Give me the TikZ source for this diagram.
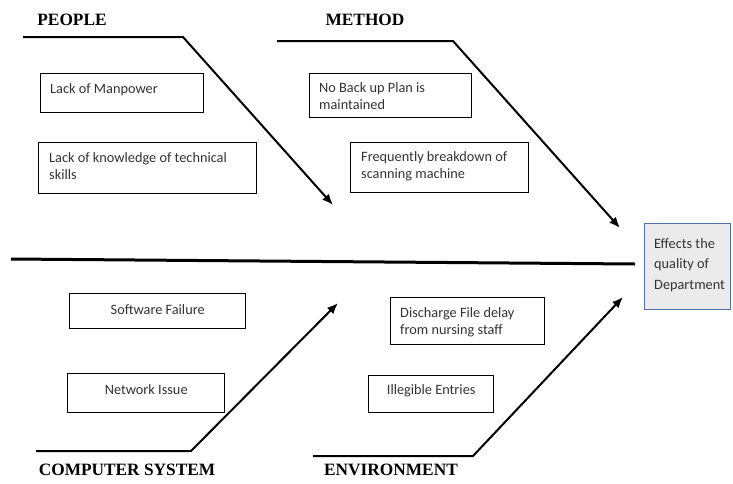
\documentclass[tikz,border=0pt]{standalone}
\usepackage{fontspec}
\setmainfont{Liberation Serif}
\newfontfamily\calfont{Carlito}
\usetikzlibrary{arrows.meta}
\definecolor{effborder}{HTML}{5070A8}
\definecolor{efffill}{HTML}{EBEBEB}
\definecolor{txtgray}{HTML}{333333}
\tikzset{
  causebox/.style={draw=black, line width=1.4pt, rectangle, anchor=north west, inner sep=0pt},
  boxtext/.style={anchor=north west, inner sep=0pt, align=left, text=txtgray,
    font=\calfont\fontsize{14.3}{17.5}\selectfont},
  ctrtext/.style={inner sep=0pt, align=center, text=txtgray,
    font=\calfont\fontsize{14.3}{17.5}\selectfont},
  cattext/.style={inner sep=0pt, font=\bfseries\fontsize{17.3}{19}\selectfont},
  branch/.style={line width=2pt, -{Latex[length=11pt,width=9pt]}},
  spine/.style={line width=3pt},
}
\begin{document}
\begin{tikzpicture}[x=1pt,y=-1pt]
\useasboundingbox (0,0) rectangle (733,483);

% category labels
\node[cattext] (lpeople) at (72,20) {PEOPLE};
\node[cattext] (lmethod) at (365,20) {METHOD};
\node[cattext] (lcomp) at (127,470) {COMPUTER SYSTEM};
\node[cattext] (lenv) at (391,470) {ENVIRONMENT};

% effect box
\node[draw=effborder, fill=efffill, line width=1.4pt, anchor=north west, inner sep=0pt,
      minimum width=86pt, minimum height=86pt] (eff) at (644,223) {};
\node[boxtext, font=\calfont\fontsize{14.3}{20.5}\selectfont] (efftext)
      at ([xshift=10pt,yshift=-15pt]eff.north west) {Effects the\\quality of\\Department};

% spine
\coordinate (s0) at (11,259);
\coordinate (s1) at (635,264);
\draw[spine] (s0) -- (s1);

% branches
\coordinate (p0) at (23,37);
\coordinate (p1) at (183,37);
\coordinate (p2) at (333,205);
\draw[branch] (p0) -- (p1) -- (p2);

\coordinate (m0) at (277,41);
\coordinate (m1) at (453,41);
\coordinate (m2) at (620,228);
\draw[branch] (m0) -- (m1) -- (m2);

\coordinate (c0) at (36,451);
\coordinate (c1) at (191,451);
\coordinate (c2) at (338,303);
\draw[branch] (c0) -- (c1) -- (c2);

\coordinate (e0) at (313,456);
\coordinate (e1) at (473,456);
\coordinate (e2) at (623,297);
\draw[branch] (e0) -- (e1) -- (e2);

% cause boxes
\node[causebox, minimum width=163pt, minimum height=39pt] (man) at (40,73) {};
\node[boxtext] (mantext) at ([xshift=10pt,yshift=-10pt]man.north west) {Lack of Manpower};

\node[causebox, minimum width=218pt, minimum height=51pt] (know) at (38,142) {};
\node[boxtext] (knowtext) at ([xshift=11pt,yshift=-10pt]know.north west) {Lack of knowledge of technical\\skills};

\node[causebox, minimum width=162pt, minimum height=44pt] (backup) at (309,73) {};
\node[boxtext] (backuptext) at ([xshift=10pt,yshift=-9pt]backup.north west) {No Back up Plan is\\maintained};

\node[causebox, minimum width=178pt, minimum height=50pt] (freq) at (350,142) {};
\node[boxtext] (freqtext) at ([xshift=11pt,yshift=-9pt]freq.north west) {Frequently breakdown of\\scanning machine};

\node[causebox, minimum width=176pt, minimum height=35pt] (soft) at (69,293) {};
\node[ctrtext] (softtext) at ([yshift=2pt]soft.center) {Software Failure};

\node[causebox, minimum width=157pt, minimum height=39pt] (net) at (67,373) {};
\node[ctrtext] (nettext) at ([yshift=4pt]net.center) {Network Issue};

\node[causebox, minimum width=154pt, minimum height=47pt] (disc) at (390,297) {};
\node[boxtext] (disctext) at ([xshift=10pt,yshift=-10pt]disc.north west) {Discharge File delay\\from nursing staff};

\node[causebox, minimum width=125pt, minimum height=37pt] (illeg) at (368,375) {};
\node[ctrtext] (illegtext) at ([yshift=3pt]illeg.center) {Illegible Entries};
\end{tikzpicture}
\end{document}
